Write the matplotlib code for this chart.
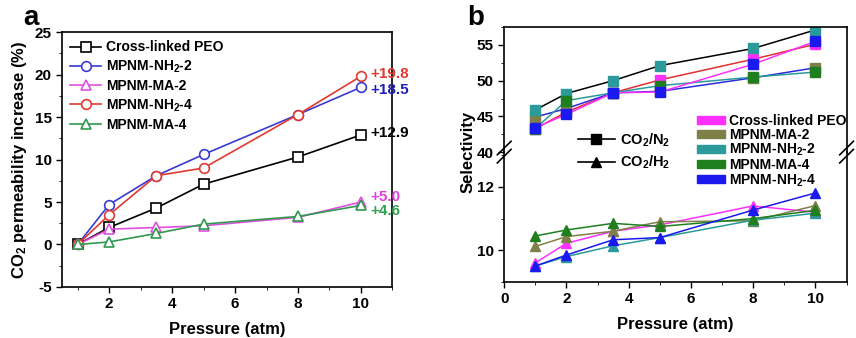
import matplotlib.pyplot as plt
from matplotlib.patches import Patch
from matplotlib.lines import Line2D
from matplotlib.ticker import MultipleLocator

plt.rcParams['font.family'] = ['Liberation Sans', 'DejaVu Sans']
plt.rcParams['font.weight'] = 'bold'
plt.rcParams['axes.labelweight'] = 'bold'
plt.rcParams['axes.unicode_minus'] = False
plt.rcParams['mathtext.fontset'] = 'custom'
plt.rcParams['mathtext.rm'] = 'Liberation Sans:bold'
plt.rcParams['mathtext.bf'] = 'Liberation Sans:bold'
plt.rcParams['mathtext.it'] = 'Liberation Sans:bold'

# ---- data, panel a ----
pressure = [1, 2, 3.5, 5, 8, 10]
names_a = ["Cross-linked PEO", "MPNM-NH$_2$-2", "MPNM-MA-2", "MPNM-NH$_2$-4", "MPNM-MA-4"]
perm_peo = [0, 2.0, 4.3, 7.1, 10.3, 12.9]
perm_nh2_2 = [0, 4.7, 8.1, 10.6, 15.3, 18.5]
perm_ma_2 = [0, 1.8, 2.0, 2.2, 3.2, 5.0]
perm_nh2_4 = [0, 3.5, 8.1, 9.0, 15.3, 19.8]
perm_ma_4 = [0, 0.3, 1.3, 2.4, 3.3, 4.6]
final_labels = ["+12.9", "+18.5", "+5.0", "+19.8", "+4.6"]

# ---- data, panel b ----
names_b = ["Cross-linked PEO", "MPNM-MA-2", "MPNM-NH$_2$-2", "MPNM-MA-4", "MPNM-NH$_2$-4"]
n2_peo = [43.3, 45.6, 48.3, 50.1, 53.0, 55.1]
n2_ma_2 = [44.9, 46.1, 48.3, 48.5, 50.4, 51.8]
n2_nh2_2 = [45.9, 48.2, 50.0, 52.1, 54.5, 57.1]
n2_ma_4 = [43.3, 47.2, 48.3, 49.3, 50.5, 51.2]
n2_nh2_4 = [43.4, 45.3, 48.3, 48.4, 52.3, 55.5]
h2_peo = [9.6, 10.22, 10.6, 10.8, 11.4, 11.2]
h2_ma_2 = [10.12, 10.43, 10.6, 10.9, 10.93, 11.41]
h2_nh2_2 = [9.5, 9.8, 10.14, 10.4, 10.95, 11.17]
h2_ma_4 = [10.45, 10.64, 10.85, 10.75, 11.0, 11.26]
h2_nh2_4 = [9.5, 9.85, 10.33, 10.4, 11.27, 11.81]

fig = plt.figure(figsize=(8.56, 3.38), dpi=100)

# ================= panel a =================
ax = fig.add_axes([0.0724, 0.151, 0.386, 0.754])
series_a = [perm_peo, perm_nh2_2, perm_ma_2, perm_nh2_4, perm_ma_4]
cols_a = ['black', '#3a3ad0', '#e050e0', '#e03a30', '#2f9a4f']
marks_a = ['s', 'o', '^', 'o', '^']
for y, c, m, n in zip(series_a, cols_a, marks_a, names_a):
    ax.plot(pressure, y, color=c, marker=m, markersize=7, markerfacecolor='white',
            markeredgecolor=c, markeredgewidth=1.2, lw=1.2, label=n)

ann_cols = ['black', '#2020b0', '#e040e0', '#e03a30', '#30a050']
ann_off = [0.2, -0.3, 0.6, 0.3, -0.6]
for y, lab, c, off in zip(series_a, final_labels, ann_cols, ann_off):
    ax.text(10.3, y[-1] + off, lab, color=c, fontsize=11, fontweight='bold', va='center')

ax.set_xlim(0.5, 11)
ax.set_ylim(-5, 25)
ax.xaxis.set_major_locator(MultipleLocator(2))
ax.xaxis.set_minor_locator(MultipleLocator(1))
ax.yaxis.set_major_locator(MultipleLocator(5))
ax.yaxis.set_minor_locator(MultipleLocator(2.5))
ax.tick_params(which='both', direction='out', labelsize=11)
ax.tick_params(which='major', length=4, width=1)
ax.tick_params(which='minor', length=2.5)
for s in ax.spines.values():
    s.set_linewidth(1.2)
ax.set_xlabel("Pressure (atm)", fontsize=12, labelpad=8)
ax.set_ylabel("CO$_2$ permeability increase (%)", fontsize=12)
ax.legend(loc='upper left', frameon=False, fontsize=10, handlelength=2.2,
          borderaxespad=0.2, labelspacing=0.3, handletextpad=0.4)
fig.text(0.027, 0.925, "a", fontsize=20, fontweight='bold')

# ================= panel b =================
left, width = 0.589, 0.40
axt = fig.add_axes([left, 0.550, width, 0.370])
axb = fig.add_axes([left, 0.166, width, 0.384], sharex=axt)
axb.patch.set_visible(False)

cols_b = ['#ff30ff', '#7f7f4a', '#2a9a9a', '#1f7f1f', '#1a1aee']
line_n2 = ['#e03030', '#2a2ae0', 'black', '#2a9a9a', '#ff30ff']
line_h2 = ['#ff30ff', '#7f7f4a', '#2a9a9a', '#1f7f1f', '#1a1aee']
series_n2 = [n2_peo, n2_ma_2, n2_nh2_2, n2_ma_4, n2_nh2_4]
series_h2 = [h2_peo, h2_ma_2, h2_nh2_2, h2_ma_4, h2_nh2_4]
for y, c, lc in zip(series_n2, cols_b, line_n2):
    axt.plot(pressure, y, color=lc, lw=1.1, marker='s', markersize=6.5,
             markerfacecolor=c, markeredgecolor=c)
for y, c, lc in zip(series_h2, cols_b, line_h2):
    axb.plot(pressure, y, color=lc, lw=1.1, marker='^', markersize=7,
             markerfacecolor=c, markeredgecolor=c)

axt.set_xlim(0, 11)
axt.set_ylim(40, 57.5)
axb.set_ylim(9.0, 13.1)
axt.yaxis.set_major_locator(MultipleLocator(5))
axt.yaxis.set_minor_locator(MultipleLocator(2.5))
axb.yaxis.set_major_locator(MultipleLocator(2))
axb.yaxis.set_minor_locator(MultipleLocator(1))
axb.xaxis.set_major_locator(MultipleLocator(2))
axb.xaxis.set_minor_locator(MultipleLocator(1))
axt.spines['bottom'].set_visible(False)
axb.spines['top'].set_visible(False)
axt.tick_params(axis='x', which='both', bottom=False, labelbottom=False)
for a in (axt, axb):
    a.tick_params(which='both', direction='out', labelsize=11)
    a.tick_params(which='major', length=4, width=1)
    a.tick_params(which='minor', length=2.5)
    for s in a.spines.values():
        s.set_linewidth(1.2)
axt.set_yticks([40, 45, 50, 55])
axb.set_yticks([10, 12])

# break marks
for xb in (0, 1):
    for dy in (-0.012, 0.012):
        fig.add_artist(Line2D([left + xb * width - 0.008, left + xb * width + 0.008],
                              [0.550 + dy - 0.02, 0.550 + dy + 0.02],
                              color='black', lw=1.2))

axb.set_xlabel("Pressure (atm)", fontsize=12, labelpad=8)
fig.text(0.547, 0.55, "Selectivity", rotation=90, fontsize=12, fontweight='bold',
         ha='center', va='center')

gas_handles = [Line2D([], [], color='black', marker='s', markersize=7, lw=1.2),
               Line2D([], [], color='black', marker='^', markersize=7, lw=1.2)]
fig.legend(gas_handles, ["CO$_2$/N$_2$", "CO$_2$/H$_2$"], loc='upper left',
           bbox_to_anchor=(0.66, 0.65), frameon=False, fontsize=10.5,
           handlelength=2.5, labelspacing=0.35, handletextpad=0.4)
mat_handles = [Patch(facecolor=c, edgecolor=c) for c in cols_b]
fig.legend(mat_handles, names_b, loc='upper left', bbox_to_anchor=(0.800, 0.70),
           frameon=False, fontsize=10, handlelength=2.0, handleheight=0.5,
           labelspacing=0.0, handletextpad=0.3)
fig.text(0.546, 0.925, "b", fontsize=20, fontweight='bold')

fig.savefig("out.png", dpi=100)
